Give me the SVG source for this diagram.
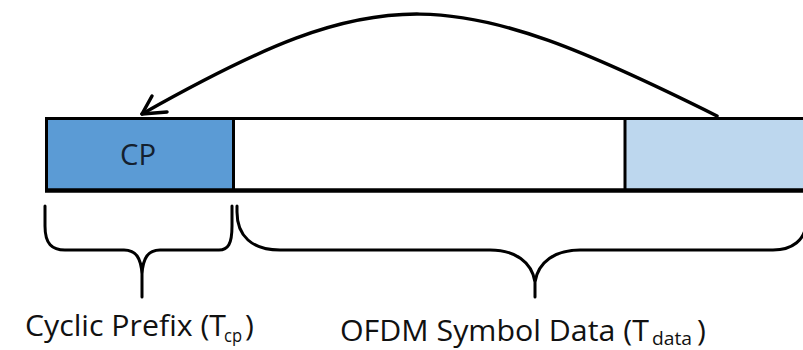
<svg xmlns="http://www.w3.org/2000/svg" width="803" height="350" viewBox="0 0 803 350">
<style>
.lbl{font-family:"Open Sans",Lato,"Liberation Sans",sans-serif;fill:#111;}
.ln{fill:none;stroke:#000;stroke-linecap:round;stroke-linejoin:round;}
.edge{stroke:#000;}
</style>
<rect width="803" height="350" fill="#fff"/>
<g id="cp">
<rect x="45" y="118" width="189" height="72" fill="#5B9BD5"/>
<text class="lbl" x="138" y="165" font-size="30" text-anchor="middle" textLength="36" lengthAdjust="spacingAndGlyphs" style="fill:#14202e">CP</text>
</g>
<g id="data">
<rect x="234" y="118" width="391" height="72" fill="#fff"/>
</g>
<g id="copy">
<rect x="625" y="118" width="180" height="72" fill="#BDD7EE"/>
</g>
<g id="frame">
<line class="edge" x1="45" y1="118.5" x2="805" y2="118.5" stroke-width="3"/>
<line class="edge" x1="45" y1="190.5" x2="805" y2="190.5" stroke-width="4.5"/>
<line class="edge" x1="46.5" y1="117" x2="46.5" y2="192" stroke-width="3"/>
<line class="edge" x1="233.5" y1="117" x2="233.5" y2="192" stroke-width="3"/>
<line class="edge" x1="625" y1="117" x2="625" y2="192" stroke-width="3"/>
</g>
<g id="connectors">
<path class="ln" stroke-width="3.5" d="M717,116 C450,-17 383,-22 142,114"/>
<path class="ln" stroke-width="3.5" d="M152,96 L142,114 L167,112"/>
<path class="ln" stroke-width="3" d="M45,206 L45,226 C45,244 52,250 65,250 L124,250 C136,250 141,258 142,274 L142,297 M142,274 C143,258 148,250 160,250 L219,250 C228,250 232,244 232,226 L232,206"/>
<path class="ln" stroke-width="3" d="M237,206 L237,212 C237,236 252,250 280,250 L490,250 C515,250 532,262 535,282 L535,297 M535,282 C538,262 555,250 580,250 L773,250 C792,250 806,240 806,222 L806,206"/>
</g>
<g id="labels">
<text class="lbl" x="25" y="336" font-size="30" textLength="201" lengthAdjust="spacingAndGlyphs">Cyclic Prefix (T</text>
<text class="lbl" x="224" y="342" font-size="19" textLength="18" lengthAdjust="spacingAndGlyphs">cp</text>
<text class="lbl" x="245" y="336" font-size="30">)</text>
<text class="lbl" x="340" y="341" font-size="30" textLength="309" lengthAdjust="spacingAndGlyphs">OFDM Symbol Data (T</text>
<text class="lbl" x="652" y="345" font-size="19" textLength="40" lengthAdjust="spacingAndGlyphs">data</text>
<text class="lbl" x="697" y="341" font-size="30">)</text>
</g>
</svg>
